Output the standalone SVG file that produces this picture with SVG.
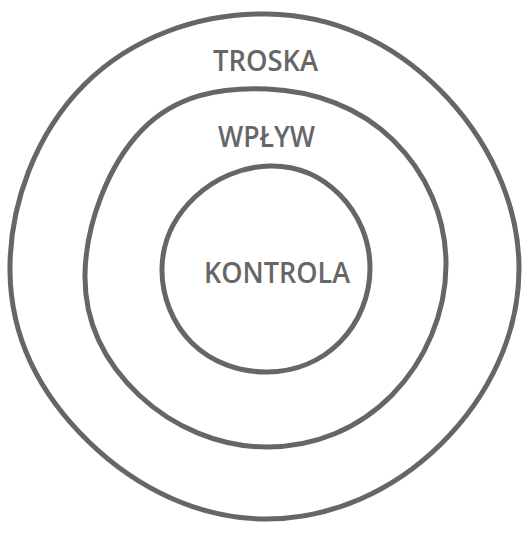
<svg xmlns="http://www.w3.org/2000/svg" width="522" height="533" viewBox="0 0 522 533">
<style>
.ring{fill:none;stroke:#666;stroke-width:5;stroke-linejoin:round;stroke-linecap:round}
.lbl{fill:#666;font-family:"Open Sans","Liberation Sans",sans-serif;font-size:29px;font-weight:600;text-anchor:middle}
</style>
<rect width="522" height="533" fill="#fff"/>
<g id="troska">
<path class="ring" d="M267,14 C333.7,14.9 392.7,42.4 440,90 C487.3,137.6 518.8,201.6 519,268 C519.2,334.4 488.6,397 441,444 C393.4,491 331,519.3 265,519 C199,518.7 136.8,488.3 89,442 C41.2,395.7 10.9,339 10,272 C9.1,205 35.8,133.4 84,85 C132.2,36.6 200.3,13.1 267,14 Z"/>
<text class="lbl" x="265.5" y="71" textLength="105" lengthAdjust="spacingAndGlyphs">TROSKA</text>
</g>
<g id="wplyw">
<path class="ring" d="M267,89 C314.1,90.9 359.4,107 393,140 C426.6,173 446.2,217.2 446,265 C445.8,312.8 425.6,360.9 392,395 C358.4,429.1 314.4,447 267,447 C219.6,447 173.1,427.3 139,395 C104.9,362.7 84.4,324.7 85,275 C85.6,225.3 107.9,164.9 142,130 C176.1,95.1 219.9,87.1 267,89 Z"/>
<text class="lbl" x="266.5" y="147" textLength="97" lengthAdjust="spacingAndGlyphs">WPŁYW</text>
</g>
<g id="kontrola">
<path class="ring" d="M270,166 C297.2,165.6 321.25,175.9 340,195 C358.75,214.1 370,240.4 370,268 C370,295.6 359.3,322.5 340,342 C320.7,361.5 294.75,371.8 267,372 C239.25,372.2 211.7,362.5 192,343 C172.3,323.5 161.4,295.4 162,268 C162.6,240.6 174.75,216.1 195,197 C215.25,177.9 242.8,166.4 270,166 Z"/>
<text class="lbl" x="277" y="283" textLength="146" lengthAdjust="spacingAndGlyphs">KONTROLA</text>
</g>
<g id="connectors"/>
</svg>
